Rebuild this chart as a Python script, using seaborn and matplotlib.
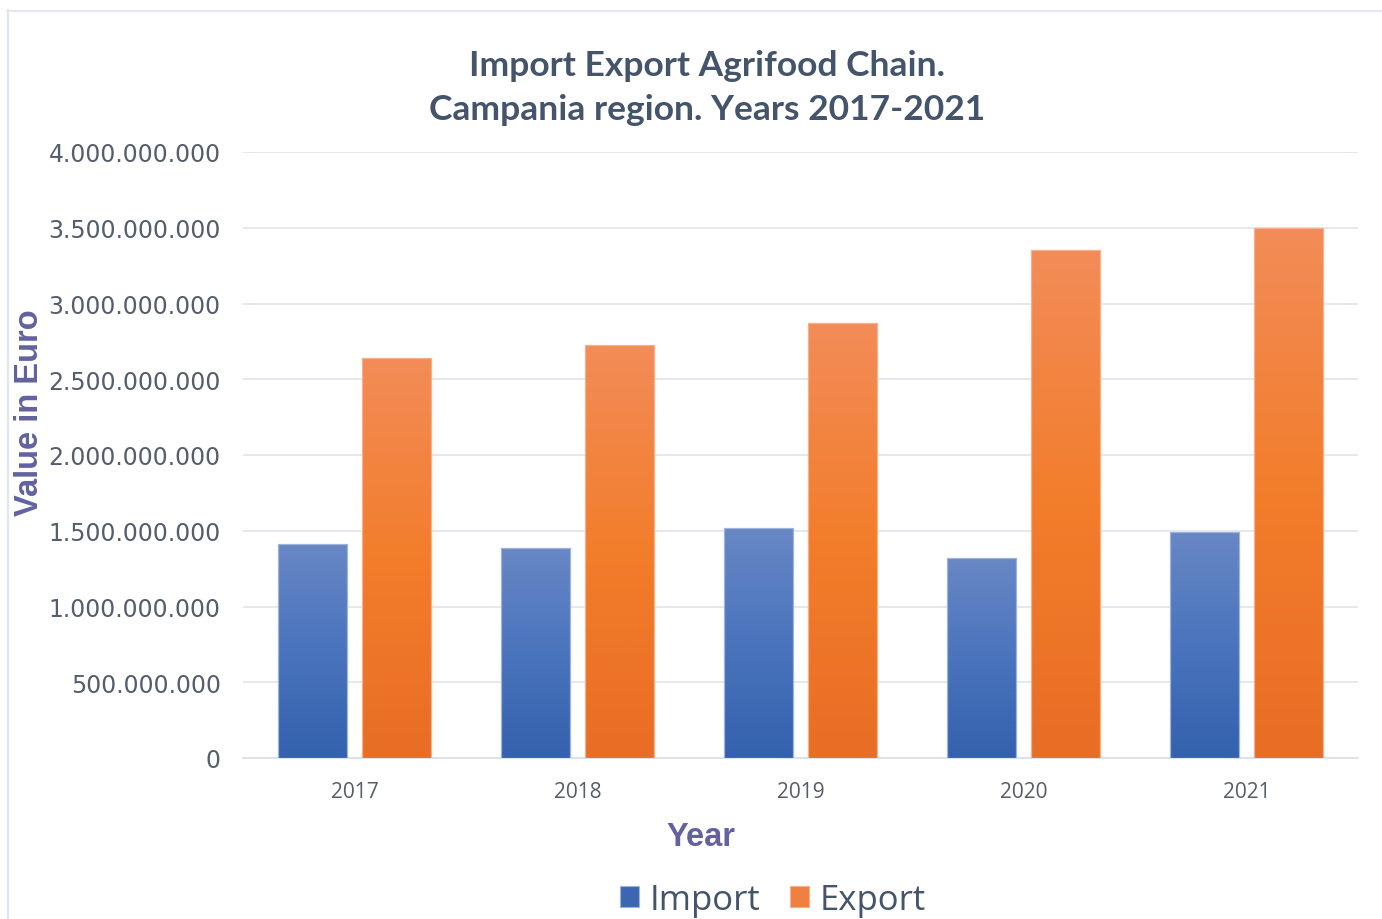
import numpy as np
import pandas as pd
import matplotlib
matplotlib.use("Agg")
import matplotlib.pyplot as plt
from matplotlib.colors import LinearSegmentedColormap
from matplotlib.lines import Line2D
from matplotlib.patches import Patch
import seaborn as sns

# Agrifood chain trade values (euro)
years = ["2017", "2018", "2019", "2020", "2021"]
import_values = [1412000000, 1386000000, 1518000000, 1318000000, 1494000000]
export_values = [2642000000, 2724000000, 2871000000, 3351000000, 3496000000]
series = ["Import", "Export"]
y_ticks = [0, 500000000, 1000000000, 1500000000, 2000000000,
           2500000000, 3000000000, 3500000000, 4000000000]

df = pd.DataFrame({
    "Year": years * 2,
    "Flow": ["Import"] * len(years) + ["Export"] * len(years),
    "Value": import_values + export_values,
})

sns.set_theme(style="white")
plt.rcParams["font.family"] = ["DejaVu Sans"]

W, H = 1382, 920
fig = plt.figure(figsize=(W / 100, H / 100), dpi=100)
ax = fig.add_axes([243 / W, 1 - 759 / H, (1358 - 243) / W, (759 - 153) / H])

solid = ["#4a72bc", "#f07b2e"]
sns.barplot(data=df, x="Year", y="Value", hue="Flow", hue_order=series,
            palette=solid, width=0.76, gap=0.184, ax=ax, legend=False,
            zorder=3)

# vertical colour ramps for the bars
ramps = [
    LinearSegmentedColormap.from_list("imp", ["#3461ad", "#4a74bd", "#6887c5"]),
    LinearSegmentedColormap.from_list("exp", ["#e86d25", "#f37d2b", "#f28c58"]),
]
edges = ["#9fb3dd", "#f7b08a"]
grad = np.linspace(0, 1, 256).reshape(-1, 1)
for ci, cont in enumerate(ax.containers):
    for bar in cont:
        x0, y0 = bar.get_x(), bar.get_y()
        w, h = bar.get_width(), bar.get_height()
        im = ax.imshow(grad, cmap=ramps[ci], aspect="auto", origin="lower",
                       extent=[x0, x0 + w, y0, y0 + h], zorder=3,
                       interpolation="bilinear")
        im.set_clip_path(bar)
        bar.set_facecolor("none")
        bar.set_edgecolor(edges[ci])
        bar.set_linewidth(0.9)
        bar.set_zorder(4)
ax.set_xlim(-0.5, len(years) - 0.5)
ax.set_ylim(0, 4000000000)

# grid and axes styling
ax.set_yticks(y_ticks)
ax.set_yticklabels([f"{v:,}".replace(",", ".") for v in y_ticks],
                   fontsize=17, color="#545e6c", family="DejaVu Sans")
ax.tick_params(axis="y", length=0, pad=16)
ax.tick_params(axis="x", length=0, pad=16.5)
for lbl in ax.get_xticklabels():
    lbl.set_fontsize(15)
    lbl.set_color("#555d68")
    lbl.set_family("Open Sans")
ax.yaxis.grid(True, color="#e5e8ee", linewidth=1.4, zorder=0)
ax.set_axisbelow(True)
for s in ["top", "right", "left"]:
    ax.spines[s].set_visible(False)
ax.spines["bottom"].set_color("#dde2ea")
ax.spines["bottom"].set_linewidth(1.4)
ax.set_xlabel("")
ax.set_ylabel("")
ax.set_facecolor("white")

# titles and axis labels
fig.text(707 / W, 1 - 88 / H,
         "Import Export Agrifood Chain.\nCampania region. Years 2017-2021",
         ha="center", va="center", fontsize=25.5, fontweight="bold",
         color="#44546a", family="Lato", linespacing=1.5)
fig.text(701 / W, 1 - 838 / H, "Year", ha="center", va="center",
         fontsize=23.5, fontweight="bold", color="#6262a0",
         family="Liberation Sans")
fig.text(30 / W, 1 - 413 / H, "Value in Euro", ha="center", va="center",
         rotation=90, fontsize=23.5, fontweight="bold", color="#6262a0",
         family="Liberation Sans")

# legend
handles = [Patch(facecolor="#3a66b2", edgecolor="#9fb3dd", linewidth=0.8),
           Patch(facecolor="#f08040", edgecolor="#f7b08a", linewidth=0.8)]
fig.legend(handles, series, loc="center",
           bbox_to_anchor=(773 / W, 1 - 901 / H), ncol=2, frameon=False,
           prop={"family": "Open Sans", "size": 25},
           labelcolor="#44546a", handlelength=0.55, handleheight=0.55,
           handletextpad=0.3, columnspacing=0.85, borderpad=0)

# outer frame
fc = "#e2e6ed"
fig.add_artist(Line2D([7.5 / W, 7.5 / W], [1 - 11 / H, 0], color=fc,
                      linewidth=1.6, transform=fig.transFigure))
fig.add_artist(Line2D([7 / W, 1], [1 - 11.5 / H, 1 - 11.5 / H], color=fc,
                      linewidth=1.6, transform=fig.transFigure))

fig.savefig("out.png", dpi=100, facecolor="white")
